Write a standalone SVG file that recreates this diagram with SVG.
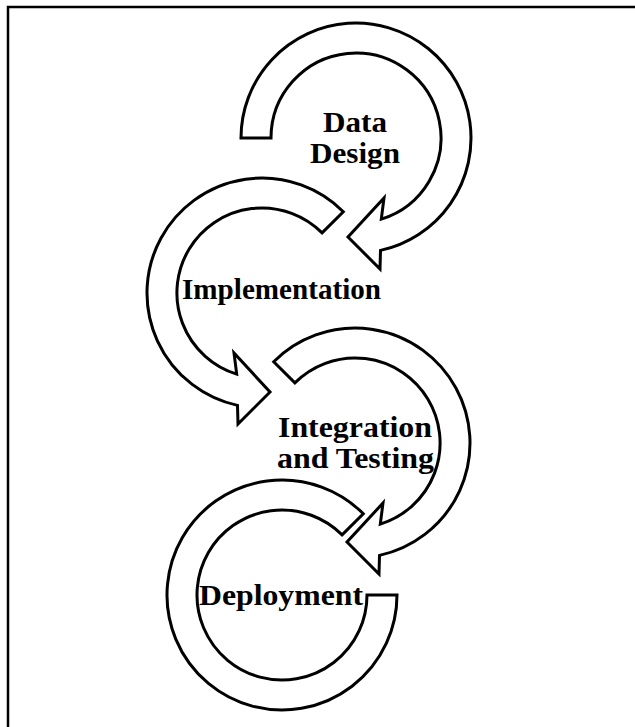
<svg xmlns="http://www.w3.org/2000/svg" width="635" height="727" viewBox="0 0 635 727">
<style>
.arrow{fill:#ffffff;stroke:#000000;stroke-width:3;stroke-linejoin:miter}
.lbl{font-family:"Liberation Serif","Times New Roman",serif;font-weight:bold;font-size:30px;fill:#000000;text-anchor:middle}
</style>
<rect x="0" y="0" width="635" height="727" fill="#ffffff"/>
<rect x="8" y="7" width="700" height="800" fill="none" stroke="#000000" stroke-width="2.5"/>
<g id="connectors">
<path id="arrow-data-design" class="arrow" d="M241,138 A115,115 0 1 1 380.5,250.4 L380,269 L348,237 L384,198 L381.3,219.1 A85,85 0 1 0 271,138 Z"/>
<path id="arrow-implementation" class="arrow" d="M343.3,211.7 A115,115 0 1 0 237.5,405.4 L238,424 L270,392 L234,353 L236.7,374.1 A85,85 0 1 1 322.1,232.9 Z"/>
<path id="arrow-integration" class="arrow" d="M273.7,361.7 A115,115 0 1 1 379.5,555.4 L379,574 L347,542 L383,503 L380.3,524.1 A85,85 0 1 0 294.9,382.9 Z"/>
<path id="arrow-deployment" class="arrow" d="M363.3,513.7 A115,115 0 1 0 397,595 L367,595 A85,85 0 1 1 342.1,534.9 Z"/>
</g>
<g id="node-data-design">
<text class="lbl" x="355" y="132" textLength="64" lengthAdjust="spacingAndGlyphs">Data</text>
<text class="lbl" x="355" y="163" textLength="90" lengthAdjust="spacingAndGlyphs">Design</text>
</g>
<g id="node-implementation">
<text class="lbl" x="281.5" y="299" textLength="199" lengthAdjust="spacingAndGlyphs">Implementation</text>
</g>
<g id="node-integration">
<text class="lbl" x="355" y="437" textLength="154" lengthAdjust="spacingAndGlyphs">Integration</text>
<text class="lbl" x="355.5" y="468" textLength="157" lengthAdjust="spacingAndGlyphs">and Testing</text>
</g>
<g id="node-deployment">
<text class="lbl" x="281" y="605" textLength="164" lengthAdjust="spacingAndGlyphs">Deployment</text>
</g>
</svg>
